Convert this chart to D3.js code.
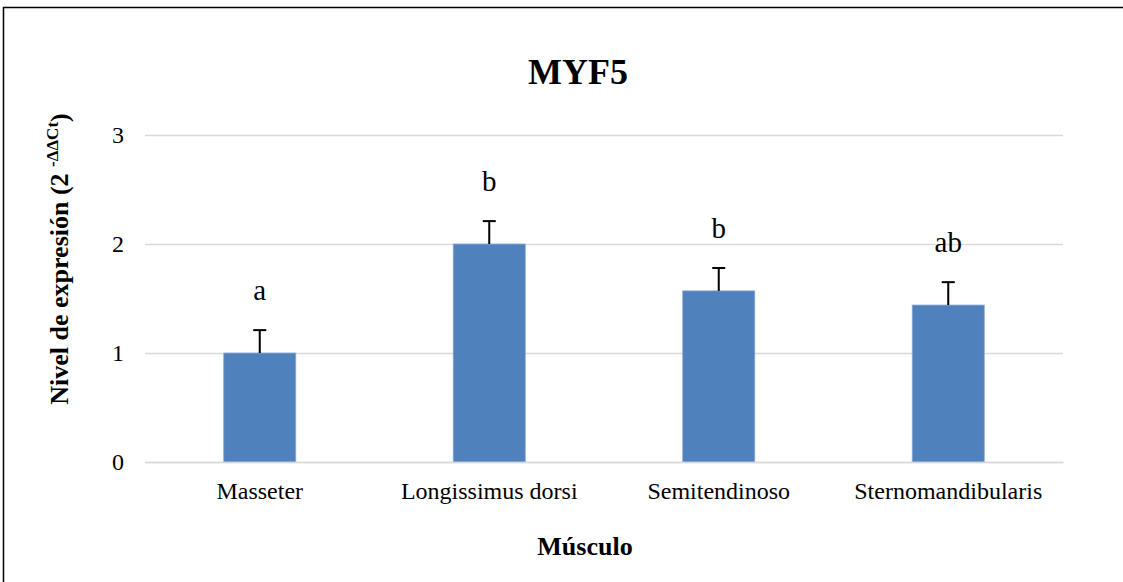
<!DOCTYPE html>
<html>
<head>
<meta charset="utf-8">
<script src="https://cdn.jsdelivr.net/npm/d3@7"></script>
<style>
  html, body { margin: 0; padding: 0; background: #fff; }
  svg { display: block; }
</style>
</head>
<body>
<svg id="chart" width="1123" height="582"></svg>
<script>
// MYF5 relative expression by muscle
const muscles = ["Masseter", "Longissimus dorsi", "Semitendinoso", "Sternomandibularis"];
const expression = [1.00, 2.00, 1.57, 1.44];
const stdError = [0.21, 0.21, 0.21, 0.21];
const groupLetters = ["a", "b", "b", "ab"];
const yTicks = [0, 1, 2, 3];

const svg = d3.select("#chart");
const W = 1123, H = 582;
const plot = { left: 145, right: 1063, top: 135, bottom: 462 };
const serif = "'Liberation Serif', 'Times New Roman', serif";

// outer frame
svg.append("rect")
  .attr("x", 3.5).attr("y", 7.5)
  .attr("width", W + 10).attr("height", H + 10)
  .attr("fill", "none").attr("stroke", "#000").attr("stroke-width", 1.5);

const x = d3.scaleBand().domain(muscles)
  .range([plot.left, plot.right]).paddingInner(0.686).paddingOuter(0.343);
const y = d3.scaleLinear().domain([0, 3]).range([plot.bottom, plot.top]);

// horizontal gridlines
svg.append("g")
  .attr("transform", `translate(${plot.left},0)`)
  .call(d3.axisLeft(y).tickValues(yTicks).tickSize(-(plot.right - plot.left)).tickFormat(""))
  .call(g => g.select(".domain").remove())
  .call(g => g.selectAll(".tick line").attr("stroke", "#d9d9d9").attr("stroke-width", 1.5));

// y tick labels
svg.append("g")
  .attr("transform", `translate(${plot.left - 21},0)`)
  .call(d3.axisLeft(y).tickValues(yTicks).tickSize(0).tickPadding(0).tickFormat(d3.format("d")))
  .call(g => g.select(".domain").remove())
  .call(g => g.selectAll("text").attr("font-family", serif).attr("font-size", 24).attr("fill", "#000"));

// bars
svg.append("g").selectAll("rect")
  .data(muscles)
  .join("rect")
  .attr("x", d => x(d))
  .attr("y", (d, i) => y(expression[i]))
  .attr("width", x.bandwidth())
  .attr("height", (d, i) => y(0) - y(expression[i]))
  .attr("fill", "#4f81bd")
  .attr("stroke", "#8eaad6").attr("stroke-width", 0.8);

// error bars (upper only)
const cap = 13;
const eb = svg.append("g").attr("stroke", "#000").attr("stroke-width", 2);
muscles.forEach((m, i) => {
  const cx = x(m) + x.bandwidth() / 2;
  const top = y(expression[i] + stdError[i]);
  eb.append("line").attr("x1", cx).attr("x2", cx).attr("y1", y(expression[i])).attr("y2", top);
  eb.append("line").attr("x1", cx - cap / 2).attr("x2", cx + cap / 2).attr("y1", top).attr("y2", top);
});

// significance letters
svg.append("g").selectAll("text")
  .data(muscles)
  .join("text")
  .attr("x", d => x(d) + x.bandwidth() / 2)
  .attr("y", (d, i) => y(expression[i] + stdError[i]) - 30)
  .attr("text-anchor", "middle")
  .attr("font-family", serif).attr("font-size", 29)
  .text((d, i) => groupLetters[i]);

// x category labels
svg.append("g")
  .attr("transform", `translate(0,${plot.bottom})`)
  .call(d3.axisBottom(x).tickSize(0).tickPadding(20))
  .call(g => g.select(".domain").attr("stroke", "#d9d9d9").attr("stroke-width", 1.5))
  .call(g => g.selectAll("text").attr("font-family", serif).attr("font-size", 24).attr("fill", "#000"));

// title
svg.append("text")
  .attr("x", 578).attr("y", 84)
  .attr("text-anchor", "middle")
  .attr("font-family", serif).attr("font-size", 36).attr("font-weight", "bold")
  .text("MYF5");

// x axis title
svg.append("text")
  .attr("x", 585).attr("y", 555)
  .attr("text-anchor", "middle")
  .attr("font-family", serif).attr("font-size", 26).attr("font-weight", "bold")
  .text("Músculo");

// y axis title with superscript exponent
const yt = svg.append("text")
  .attr("transform", "translate(68,259) rotate(-90)")
  .attr("text-anchor", "middle")
  .attr("font-family", serif).attr("font-size", 26).attr("font-weight", "bold");
yt.append("tspan").text("Nivel de expresión (2 ");
yt.append("tspan").attr("font-size", 17).attr("dy", -10).text("-ΔΔCt");
yt.append("tspan").attr("dy", 10).text(")");
</script>
</body>
</html>
